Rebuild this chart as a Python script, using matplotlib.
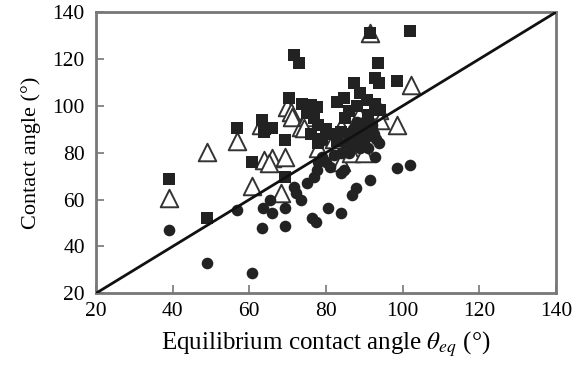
import numpy as np
import matplotlib.pyplot as plt

# measured vs. equilibrium contact angle, three sample groups
sq_x = [39.1, 48.9, 56.9, 60.8, 63.4, 63.8, 66.0, 64.7, 69.2, 69.2, 70.3, 71.6, 72.9,
        73.8, 76.0, 77.7, 75.0, 77.0, 78.0, 76.0, 79.0, 80.0, 81.0, 78.0, 83.0, 84.0,
        82.9, 84.7, 87.3, 89.0, 90.8, 92.9, 93.5, 92.9, 93.8, 98.6, 101.9, 91.6, 94.2,
        86.0, 88.0, 85.0, 89.0, 91.0, 87.0, 90.0, 92.0]
sq_y = [68.6, 52.0, 90.4, 76.1, 93.9, 88.9, 90.4, 90.4, 85.4, 69.7, 103.2, 121.6, 118.1,
        101.0, 100.3, 99.6, 97.0, 95.0, 92.0, 88.0, 86.0, 90.0, 88.0, 84.0, 85.0, 89.0,
        101.7, 103.2, 109.6, 105.3, 102.4, 101.0, 118.3, 111.7, 109.6, 110.7, 132.0, 131.0, 98.2,
        98.0, 100.0, 95.0, 92.0, 96.0, 88.0, 89.0, 91.0]

tri_x = [39.1, 49.0, 56.9, 60.8, 63.8, 66.0, 65.1, 69.2, 68.2, 69.9, 70.8, 71.2, 73.4,
         75.1, 74.2, 63.0, 83.8, 88.6, 93.8, 94.2, 98.6, 102.2, 91.6, 83.8, 86.4, 78.0,
         80.0, 88.0, 90.0, 82.0]
tri_y = [60.5, 80.5, 85.0, 66.0, 76.8, 77.6, 75.4, 78.3, 62.6, 99.6, 97.4, 95.3, 91.0,
         95.3, 90.4, 91.8, 91.0, 96.0, 98.2, 94.0, 91.8, 108.8, 130.9, 76.1, 79.7, 82.0,
         87.0, 84.0, 80.0, 86.0]

circ_x = [39.1, 48.9, 56.9, 60.8, 63.4, 63.7, 65.4, 66.0, 69.2, 69.2, 71.6, 72.1, 73.4,
          75.1, 76.8, 77.7, 76.4, 77.3, 80.5, 83.8, 83.8, 84.7, 86.8, 87.7, 91.6, 92.9,
          93.8, 92.5, 98.6, 102.0, 86.0, 87.0, 88.0, 89.0, 90.0, 91.0, 92.0, 89.0, 87.0,
          88.0, 90.0, 91.0, 85.0, 86.0, 93.0, 92.0, 89.0, 84.0, 80.0, 79.0, 81.0, 82.0, 78.0]
circ_y = [47.0, 32.8, 55.5, 28.8, 47.7, 56.2, 59.8, 54.4, 56.2, 48.7, 65.5, 62.6, 59.8,
          66.9, 69.7, 72.6, 52.0, 50.5, 56.2, 54.4, 71.2, 72.6, 61.9, 64.8, 68.3, 78.3,
          84.0, 88.2, 73.3, 74.7, 80.0, 83.0, 86.0, 88.0, 85.0, 87.0, 90.0, 91.0, 90.0,
          93.0, 93.0, 82.0, 84.0, 87.0, 86.0, 92.0, 82.0, 80.0, 76.0, 78.0, 74.0, 79.0, 76.0]

plt.rcParams['font.family'] = ['Liberation Serif', 'DejaVu Serif']
plt.rcParams['mathtext.fontset'] = 'stix'

fig = plt.figure(figsize=(5.78, 3.68), dpi=100)
ax = fig.add_axes([0.166, 0.203, 0.796, 0.764])

dark = '#222222'
ax.scatter(tri_x, tri_y, marker='^', s=160, facecolor='white', edgecolor='#333333',
           linewidths=1.4, zorder=2)
ax.scatter(sq_x, sq_y, marker='s', s=72, color=dark, linewidths=0, zorder=3)
ax.scatter(circ_x, circ_y, marker='o', s=70, color=dark, linewidths=0, zorder=4)

ax.plot([20, 140], [20, 140], color='#111111', lw=2, zorder=5)

ax.set_xlim(20, 140)
ax.set_ylim(20, 140)
ax.set_xticks(np.arange(20, 141, 20))
ax.set_yticks(np.arange(20, 141, 20))
ax.tick_params(direction='in', length=6, width=1.2, color='#777777',
               labelsize=15.5, top=False, right=False)
ax.tick_params(axis='x', pad=6)
ax.tick_params(axis='y', pad=8)
for sp in ax.spines.values():
    sp.set_color('#777777')
    sp.set_linewidth(2)

ax.set_xlabel(r'Equilibrium contact angle $\theta_{eq}$ (°)', fontsize=18, labelpad=6)
ax.set_ylabel('Contact angle (°)', fontsize=16, labelpad=8)

fig.savefig('out.png', dpi=100)
